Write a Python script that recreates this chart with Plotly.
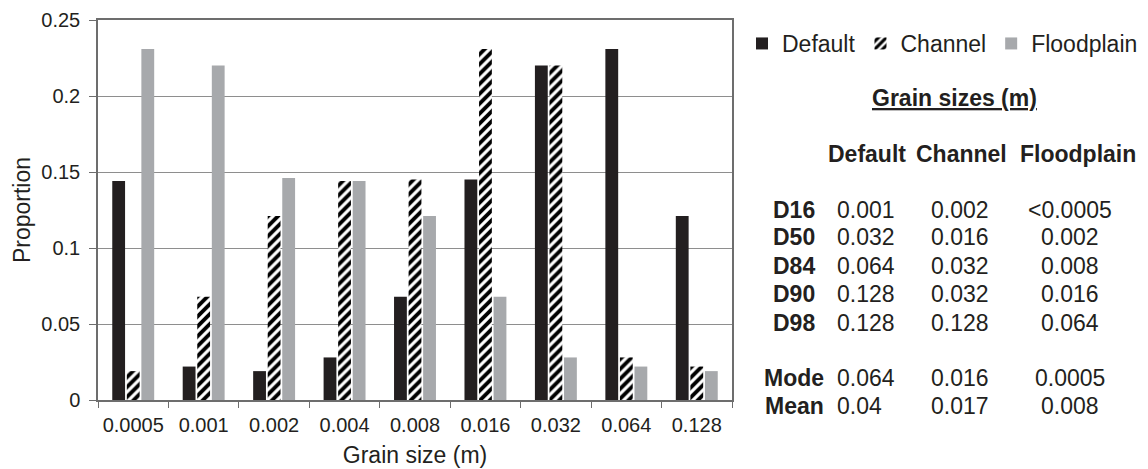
import plotly.graph_objects as go

# Grain-size classes (m) and proportion of each class per scenario
grain_sizes = ["0.0005", "0.001", "0.002", "0.004", "0.008", "0.016", "0.032", "0.064", "0.128"]
default_prop = [0.144, 0.022, 0.019, 0.028, 0.068, 0.145, 0.22, 0.231, 0.121]
channel_prop = [0.019, 0.068, 0.121, 0.144, 0.145, 0.231, 0.22, 0.028, 0.022]
floodplain_prop = [0.231, 0.22, 0.146, 0.144, 0.121, 0.068, 0.028, 0.022, 0.019]

# Summary statistics table
stat_labels = ["D16", "D50", "D84", "D90", "D98", "Mode", "Mean"]
default_stats = ["0.001", "0.032", "0.064", "0.128", "0.128", "0.064", "0.04"]
channel_stats = ["0.002", "0.016", "0.032", "0.032", "0.128", "0.016", "0.017"]
floodplain_stats = ["<0.0005", "0.002", "0.008", "0.016", "0.064", "0.0005", "0.008"]
table_columns = ["Default", "Channel", "Floodplain"]

FONT = "Liberation Sans, Arial, sans-serif"
INK = "#231f20"
GREY = "#a7a9ac"

W, H = 1148, 469
L, R, T, B = 98, 416, 20, 69
PW, PH = W - L - R, H - T - B


def px(x):
    return (x - L) / PW


def py(y):
    return (H - B - y) / PH


fig = go.Figure()
fig.add_trace(go.Bar(x=grain_sizes, y=default_prop, name="Default",
                     marker=dict(color=INK, line=dict(width=0))))
fig.add_trace(go.Bar(x=grain_sizes, y=channel_prop, name="Channel",
                     marker=dict(color="white", line=dict(width=0),
                                 pattern=dict(shape="/", fgcolor="#000000", bgcolor="white",
                                              size=7, solidity=0.55, fgopacity=1))))
fig.add_trace(go.Bar(x=grain_sizes, y=floodplain_prop, name="Floodplain",
                     marker=dict(color=GREY, line=dict(width=0))))

annotations = []
annotations.append(dict(x=px(954), y=py(98), text="<b><u>Grain sizes (m)</u></b>",
                        xanchor="center", yanchor="middle"))
for name, cx in zip(table_columns, [867, 961, 1078]):
    annotations.append(dict(x=px(cx), y=py(154), text=f"<b>{name}</b>",
                            xanchor="center", yanchor="middle"))

row_y = [210, 237, 266, 294, 323, 378, 406]
for lab, d, c, f, ry in zip(stat_labels, default_stats, channel_stats, floodplain_stats, row_y):
    annotations.append(dict(x=px(794), y=py(ry), text=f"<b>{lab}</b>",
                            xanchor="center", yanchor="middle"))
    annotations.append(dict(x=px(835), y=py(ry), text=d, xanchor="left", yanchor="middle"))
    annotations.append(dict(x=px(960), y=py(ry), text=c, xanchor="center", yanchor="middle"))
    annotations.append(dict(x=px(1070), y=py(ry), text=f, xanchor="center", yanchor="middle"))

for a in annotations:
    a.update(xref="paper", yref="paper", showarrow=False,
             font=dict(family=FONT, size=23, color=INK))

fig.update_layout(
    width=W, height=H,
    margin=dict(l=L, r=R, t=T, b=B, pad=0, autoexpand=False),
    paper_bgcolor="white", plot_bgcolor="white",
    font=dict(family=FONT, color=INK),
    barmode="group", bargap=0.38, bargroupgap=0.12,
    showlegend=True,
    legend=dict(orientation="h", xref="container", yref="container",
                x=742 / W, y=1 - 22 / H, xanchor="left", yanchor="top",
                font=dict(family=FONT, size=23, color=INK),
                itemwidth=30, traceorder="normal", bgcolor="rgba(0,0,0,0)"),
    annotations=annotations,
    xaxis=dict(
        type="category", tickson="boundaries", ticks="outside", ticklen=6,
        tickcolor="#6d6d6d", showline=True, linecolor="#6d6d6d", linewidth=1.5,
        mirror=True, showgrid=False, automargin=False, ticklabelstandoff=6,
        tickfont=dict(family=FONT, size=20, color=INK),
        title=dict(text="Grain size (m)", font=dict(family=FONT, size=23, color=INK),
                   standoff=12),
    ),
    yaxis=dict(
        range=[0, 0.25], dtick=0.05, ticks="outside", ticklen=7,
        tickcolor="#6d6d6d", showline=True, linecolor="#6d6d6d", linewidth=1.5,
        mirror=True, showgrid=True, gridcolor="#8e8e8e", gridwidth=1.3,
        zeroline=False, automargin=False, ticklabelstandoff=5,
        tickfont=dict(family=FONT, size=20, color=INK),
        title=dict(text="Proportion", font=dict(family=FONT, size=23, color=INK),
                   standoff=4),
    ),
)

fig.write_html("out.html")
